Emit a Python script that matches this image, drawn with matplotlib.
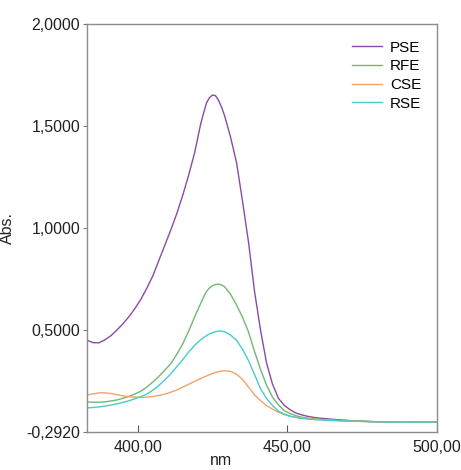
import matplotlib
matplotlib.use('Agg')
import matplotlib.pyplot as plt

# wavelength grid (nm)
wavelength = [383, 385, 387, 389, 391, 393, 395, 397, 399, 401, 403, 405, 407,
              409, 411, 413, 415, 417, 419, 421, 422, 423, 424, 425, 426, 427,
              428, 429, 431, 433, 435, 437, 439, 441, 443, 445, 447, 449, 451,
              453, 455, 457, 459, 463, 467, 472, 480, 490, 500]

pse = [0.450, 0.438, 0.437, 0.452, 0.472, 0.500, 0.530, 0.565, 0.605, 0.650,
       0.705, 0.765, 0.840, 0.915, 0.990, 1.070, 1.160, 1.260, 1.370, 1.510,
       1.565, 1.615, 1.640, 1.652, 1.648, 1.625, 1.592, 1.550, 1.445, 1.320,
       1.130, 0.930, 0.690, 0.500, 0.340, 0.235, 0.165, 0.130, 0.108, 0.092,
       0.083, 0.076, 0.071, 0.065, 0.060, 0.055, 0.050, 0.048, 0.050]
rfe = [0.147, 0.146, 0.146, 0.148, 0.152, 0.157, 0.165, 0.175, 0.186, 0.200,
       0.220, 0.245, 0.272, 0.303, 0.335, 0.380, 0.432, 0.495, 0.565, 0.630,
       0.662, 0.690, 0.707, 0.718, 0.723, 0.725, 0.721, 0.712, 0.675, 0.622,
       0.562, 0.490, 0.395, 0.307, 0.230, 0.171, 0.133, 0.104, 0.090, 0.079,
       0.072, 0.067, 0.064, 0.060, 0.057, 0.054, 0.050, 0.048, 0.049]
cse = [0.181, 0.187, 0.192, 0.192, 0.188, 0.183, 0.177, 0.173, 0.171, 0.170,
       0.171, 0.174, 0.179, 0.186, 0.195, 0.206, 0.220, 0.234, 0.248, 0.262,
       0.269, 0.275, 0.281, 0.287, 0.292, 0.296, 0.299, 0.300, 0.297, 0.283,
       0.258, 0.220, 0.182, 0.154, 0.130, 0.112, 0.097, 0.085, 0.077, 0.072,
       0.069, 0.066, 0.063, 0.059, 0.056, 0.053, 0.050, 0.048, 0.049]
rse = [0.118, 0.120, 0.123, 0.127, 0.132, 0.138, 0.145, 0.153, 0.163, 0.173,
       0.186, 0.205, 0.228, 0.255, 0.285, 0.320, 0.355, 0.392, 0.425, 0.452,
       0.463, 0.473, 0.481, 0.487, 0.492, 0.495, 0.494, 0.492, 0.475, 0.450,
       0.405, 0.350, 0.282, 0.213, 0.165, 0.130, 0.102, 0.088, 0.077, 0.071,
       0.066, 0.063, 0.061, 0.058, 0.055, 0.053, 0.050, 0.048, 0.049]

series_names = ['PSE', 'RFE', 'CSE', 'RSE']
series_colors = ['#8a4aa8', '#72b872', '#f0a46a', '#46cccc']

y_ticks = [0.0, 0.5, 1.0, 1.5, 2.0]
y_tick_labels = ['-0,2920', '0,5000', '1,0000', '1,5000', '2,0000']
x_ticks = [400, 450, 500]
x_tick_labels = ['400,00', '450,00', '500,00']

plt.rcParams['font.family'] = ['Liberation Sans', 'DejaVu Sans']

fig = plt.figure(figsize=(4.61, 4.70), dpi=100)
ax = fig.add_axes([87 / 461, 1 - 432 / 470, 350 / 461, 408 / 470])

for name, vals, col in zip(series_names, [pse, rfe, cse, rse], series_colors):
    ax.plot(wavelength, vals, color=col, lw=1.0, label=name)

ax.set_xlim(383, 500)
ax.set_ylim(0.0, 2.0)
ax.set_xticks(x_ticks)
ax.set_xticklabels(x_tick_labels)
ax.set_yticks(y_ticks)
ax.set_yticklabels(y_tick_labels)

ax.tick_params(axis='x', direction='in', length=5, width=0.8, color='#555555',
               pad=6, labelsize=11.5, labelcolor='#222222')
ax.tick_params(axis='y', direction='out', length=3, width=0.8, color='#777777',
               pad=2, labelsize=11.5, labelcolor='#222222')
for sp in ax.spines.values():
    sp.set_color('#8c8c8c')
    sp.set_linewidth(1.0)

ax.set_ylabel('Abs.', fontsize=11.5, color='#222222', labelpad=8)
ax.set_xlabel('nm', fontsize=11.5, color='#222222', va='bottom')
ax.xaxis.set_label_coords(0.383, -0.088)

ax.legend(loc='upper right', frameon=False, fontsize=11, handlelength=2.0,
          handletextpad=0.5, labelspacing=0.3, borderaxespad=0.3,
          bbox_to_anchor=(0.985, 0.985))

fig.savefig('out.png', dpi=100)
